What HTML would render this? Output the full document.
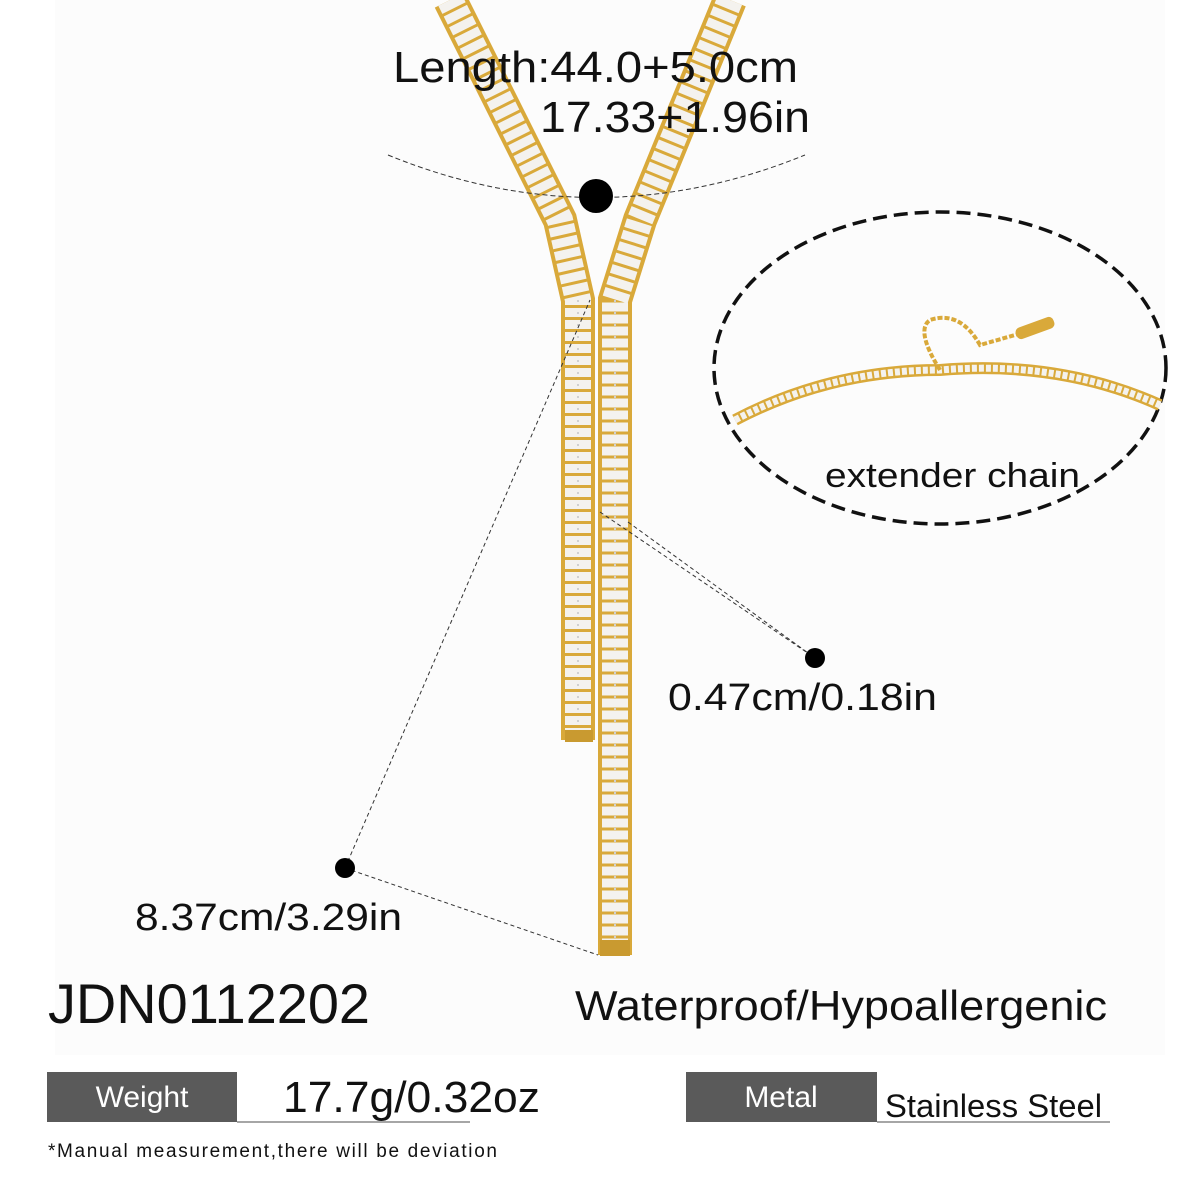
<!DOCTYPE html>
<html><head><meta charset="utf-8"><style>
html,body{margin:0;padding:0;background:#fff}
svg{display:block}
text{font-family:"Liberation Sans",sans-serif;fill:#111}
</style></head><body>
<svg width="1200" height="1200" viewBox="0 0 1200 1200" xmlns="http://www.w3.org/2000/svg">
<rect x="0" y="0" width="1200" height="1200" fill="#fff"/>
<rect x="55" y="0" width="1110" height="1055" fill="#fcfcfc"/>
<g fill="none">
 <path d="M450 0 L 560 220 L 578 300 L 578 740" stroke="#d9a93a" stroke-width="34"/>
 <path d="M450 0 L 560 220 L 578 300 L 578 740" stroke="#f4f2ee" stroke-width="26" stroke-dasharray="9 3"/>
 <path d="M730 0 L 640 220 L 615 300 L 615 955" stroke="#d9a93a" stroke-width="34"/>
 <path d="M730 0 L 640 220 L 615 300 L 615 955" stroke="#f4f2ee" stroke-width="26" stroke-dasharray="9 3"/>
 <path d="M578 300 L 578 740 M615 300 L 615 955" stroke="#d0d0d0" stroke-width="2" stroke-dasharray="2 10"/>
</g>
<rect x="565" y="730" width="28" height="12" fill="#c99a30"/>
<rect x="600" y="940" width="30" height="16" fill="#c99a30"/>
<path d="M388 155 Q 596 240 805 155" fill="none" stroke="#333" stroke-width="1" stroke-dasharray="5 3"/>
<circle cx="596" cy="196" r="17" fill="#000"/>
<text x="393" y="82" font-size="44" textLength="405" lengthAdjust="spacingAndGlyphs">Length:44.0+5.0cm</text>
<text x="540" y="132" font-size="44" textLength="270" lengthAdjust="spacingAndGlyphs">17.33+1.96in</text>
<ellipse cx="940" cy="368" rx="226" ry="156" fill="none" stroke="#111" stroke-width="3.5" stroke-dasharray="14 7"/>
<path d="M735 420 Q 830 370 940 370 Q 1060 360 1160 405" fill="none" stroke="#d9a93a" stroke-width="12"/>
<path d="M735 420 Q 830 370 940 370 Q 1060 360 1160 405" fill="none" stroke="#f4f2ee" stroke-width="7" stroke-dasharray="5 2"/>
<path d="M940 370 Q 915 330 930 320 Q 960 310 980 345 L 1050 325" fill="none" stroke="#d9a93a" stroke-width="4" stroke-dasharray="5 2"/>
<rect x="1015" y="322" width="40" height="12" rx="5" fill="#d9a93a" transform="rotate(-20 1035 328)"/>
<text x="825" y="487" font-size="34" textLength="255" lengthAdjust="spacingAndGlyphs">extender chain</text>
<line x1="600" y1="512" x2="815" y2="658" stroke="#333" stroke-width="1" stroke-dasharray="4 3"/>
<line x1="628" y1="522" x2="815" y2="658" stroke="#333" stroke-width="1" stroke-dasharray="4 3"/>
<circle cx="815" cy="658" r="10" fill="#000"/>
<text x="668" y="710" font-size="38" textLength="269" lengthAdjust="spacingAndGlyphs">0.47cm/0.18in</text>
<line x1="345" y1="868" x2="590" y2="300" stroke="#333" stroke-width="1" stroke-dasharray="4 3"/>
<line x1="345" y1="868" x2="598" y2="955" stroke="#333" stroke-width="1" stroke-dasharray="4 3"/>
<circle cx="345" cy="868" r="10" fill="#000"/>
<text x="135" y="930" font-size="38" textLength="267" lengthAdjust="spacingAndGlyphs">8.37cm/3.29in</text>
<text x="48" y="1023" font-size="56" textLength="322" lengthAdjust="spacingAndGlyphs">JDN0112202</text>
<text x="575" y="1020" font-size="42" textLength="532" lengthAdjust="spacingAndGlyphs">Waterproof/Hypoallergenic</text>
<rect x="47" y="1072" width="190" height="50" fill="#5a5a5a"/>
<text x="142" y="1107" font-size="30" text-anchor="middle" style="fill:#fff">Weight</text>
<line x1="237" y1="1122" x2="470" y2="1122" stroke="#888" stroke-width="1.5"/>
<text x="283" y="1112" font-size="44" textLength="257" lengthAdjust="spacingAndGlyphs">17.7g/0.32oz</text>
<rect x="686" y="1072" width="191" height="50" fill="#5a5a5a"/>
<text x="781" y="1107" font-size="30" text-anchor="middle" style="fill:#fff">Metal</text>
<line x1="877" y1="1122" x2="1110" y2="1122" stroke="#888" stroke-width="1.5"/>
<text x="885" y="1117" font-size="32" textLength="217" lengthAdjust="spacingAndGlyphs">Stainless Steel</text>
<text x="48" y="1157" font-size="19" textLength="449" lengthAdjust="spacing">*Manual measurement,there will be deviation</text>
</svg>
</body></html>
